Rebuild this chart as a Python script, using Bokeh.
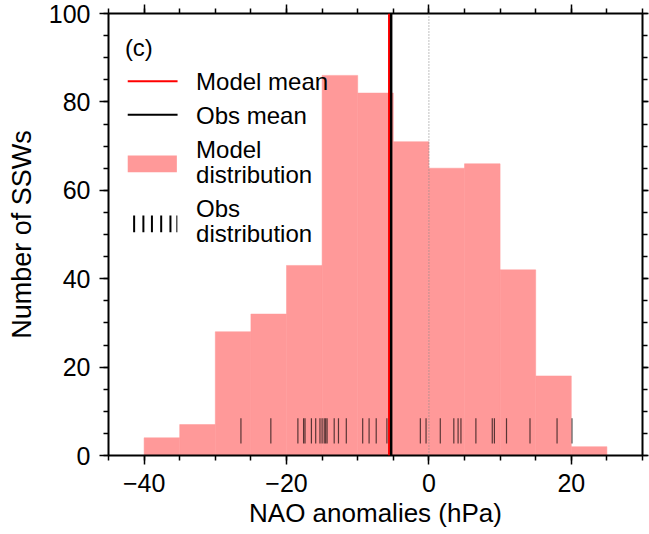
from bokeh.plotting import figure
from bokeh.models import Range1d, LinearAxis, FixedTicker, Span
from bokeh.embed import file_html
from bokeh.resources import INLINE
from bokeh.core.properties import value

# ---------------- data ----------------
bin_edges = [-40, -35, -30, -25, -20, -15, -10, -5, 0, 5, 10, 15, 20, 25]
model_counts = [4, 7, 28, 32, 43, 86, 82, 71, 65, 66, 42, 18, 2]
obs_events = [-26.4, -22.2, -18.4, -17.6, -17.4, -16.5, -15.9, -15.3, -15.0,
              -14.7, -14.5, -14.3, -13.3, -12.7, -11.6, -9.3, -8.4, -7.4,
              -5.9, -1.2, -0.4, 1.6, 3.5, 4.1, 4.5, 6.6, 8.9, 9.2, 10.9,
              14.2, 18.0, 20.1]
model_mean = -5.6
obs_mean = -5.3
x_major = [-40, -20, 0, 20]
x_minor = list(range(-45, 31, 5))
x_tick_labels = {-40: "\u221240", -20: "\u221220", 0: "0", 20: "20"}
y_major = [0, 20, 40, 60, 80, 100]
y_minor = list(range(0, 101, 5))
legend_labels = ["Model mean", "Obs mean", "Model\ndistribution", "Obs\ndistribution"]

FONT = "Liberation Sans"
PINK = "#FF9999"

W, H = 649, 534
p = figure(width=W, height=H, x_range=Range1d(-45, 30), y_range=Range1d(0, 100),
           output_backend="svg", toolbar_location=None,
           min_border_left=108, min_border_right=7, min_border_top=13,
           min_border_bottom=79)
p.outline_line_color = None
p.grid.visible = False
p.background_fill_color = "white"
p.border_fill_color = "white"

def style_axis(ax, major, minor, labels=True, tick_major=9, tick_minor=5):
    ax.ticker = FixedTicker(ticks=major, minor_ticks=minor)
    ax.axis_line_width = 2
    ax.axis_line_color = "black"
    ax.major_tick_line_color = "black"
    ax.minor_tick_line_color = "black"
    ax.major_tick_line_width = 1.5
    ax.minor_tick_line_width = 1.5
    ax.major_tick_in = 0
    ax.minor_tick_in = 0
    ax.major_tick_out = tick_major
    ax.minor_tick_out = tick_minor
    ax.major_label_text_font = FONT
    ax.axis_label_text_font = FONT
    ax.axis_label_text_font_style = "normal"
    ax.axis_label_text_color = "black"
    ax.major_label_text_font_size = "25px"
    ax.major_label_text_color = "black" if labels else None
    if not labels:
        ax.major_label_standoff = 0

xa = p.xaxis[0]
style_axis(xa, x_major, x_minor)
xa.major_label_overrides = x_tick_labels
xa.axis_label = "NAO anomalies (hPa)"
xa.axis_label_text_font_size = "26px"
xa.major_label_standoff = 9
xa.axis_label_standoff = 3

ya = p.yaxis[0]
style_axis(ya, y_major, y_minor)
ya.axis_label = "Number of SSWs"
ya.axis_label_text_font_size = "27px"
ya.major_label_standoff = 9
ya.axis_label_standoff = 9

top = LinearAxis()
style_axis(top, x_major, x_minor, labels=False, tick_major=9, tick_minor=5)
p.add_layout(top, "above")
right = LinearAxis()
style_axis(right, y_major, y_minor, labels=False, tick_major=6, tick_minor=5)
p.add_layout(right, "right")

# histogram of model distribution
p.quad(left=bin_edges[:-1], right=bin_edges[1:], bottom=0, top=model_counts,
       fill_color=PINK, line_color=PINK, line_width=0.5)

# obs rug
p.segment(x0=obs_events, y0=2.7, x1=obs_events, y1=8.4,
          line_color="black", line_alpha=0.65, line_width=1.2)

p.add_layout(Span(location=0, dimension="height", line_color="gray",
                  line_dash="1 2", line_width=1))
p.add_layout(Span(location=model_mean, dimension="height", line_color="red", line_width=2))
p.add_layout(Span(location=obs_mean, dimension="height", line_color="black", line_width=2.5))

# ---------------- manual legend (layout positions in data space) ----------------
sym_x0, sym_x1 = -42.3, -35.3
txt_x = -32.7
p.text(x=[-42.7], y=[92.3], text=["(c)"], text_font=value(FONT), text_font_size="24px",
       text_baseline="middle", text_align="left", text_color="black")
p.segment(x0=[sym_x0], y0=[84.7], x1=[sym_x1], y1=[84.7], line_color="red", line_width=2)
p.segment(x0=[sym_x0], y0=[77.1], x1=[sym_x1], y1=[77.1], line_color="black", line_width=2)
p.quad(left=[sym_x0], right=[-35.4], bottom=[64.1], top=[67.9], fill_color=PINK, line_color=None)
tick_xs = [-41.4, -40.1, -38.9, -37.6, -36.3, -35.4]
tick_w = [2, 2, 2, 2, 2, 1]
p.segment(x0=tick_xs, y0=[50.5] * 6, x1=tick_xs, y1=[54.3] * 6, line_color="black",
          line_width=tick_w)
lab_y = [84.6, 77.0, 69.2, 55.9]
lines = []
ys = []
for lab, y0 in zip(legend_labels, lab_y):
    parts = lab.split("\n")
    for i, part in enumerate(parts):
        lines.append(part)
        ys.append(y0 - i * 5.6)
p.text(x=[txt_x] * len(lines), y=ys, text=lines, text_font=value(FONT),
       text_font_size="24px", text_baseline="middle", text_align="left", text_color="black")

open("out.html", "w").write(file_html(p, INLINE))
